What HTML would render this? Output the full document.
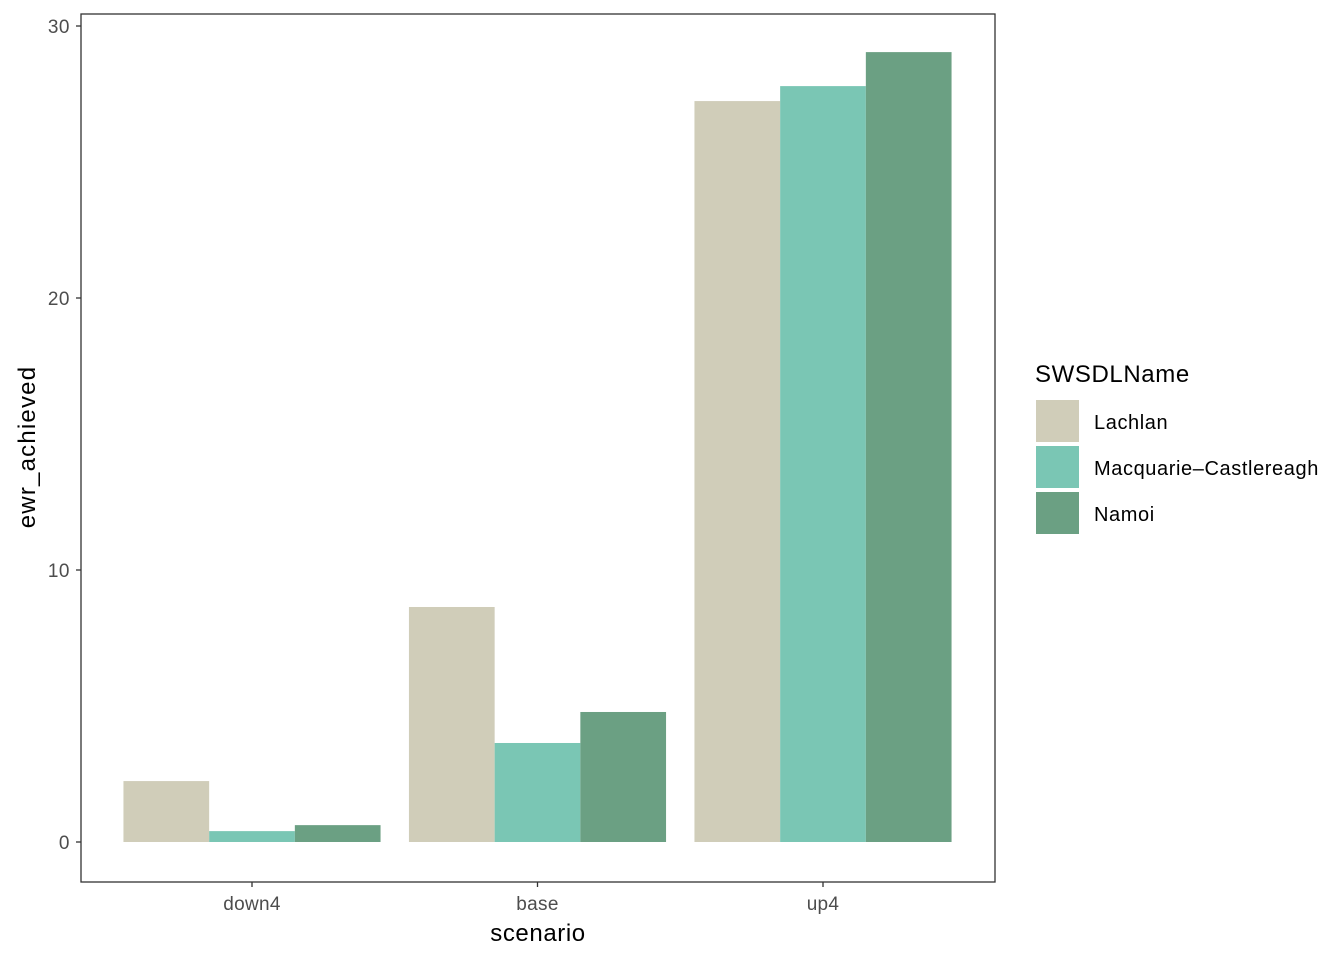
<!DOCTYPE html>
<html><head><meta charset="utf-8"><style>
body{margin:0;background:#fff;}
svg text{font-family:"Liberation Sans",Arial,sans-serif;}
</style></head><body>
<svg id="chart" width="1344" height="960" xmlns="http://www.w3.org/2000/svg">
<rect width="1344" height="960" fill="#fff"/>
<g id="bars"></g>
<rect x="81" y="14" width="914" height="868" fill="none" stroke="#333" stroke-width="1.3"/>
<g id="axes"></g>
<text x="538" y="941" font-size="24" letter-spacing="0.6" text-anchor="middle" fill="#000">scenario</text>
<text transform="translate(35,447) rotate(-90)" font-size="24" letter-spacing="1.2" text-anchor="middle" fill="#000">ewr_achieved</text>
<g id="legend">
<text x="1035" y="382" font-size="24" letter-spacing="0.6" fill="#000">SWSDLName</text>
</g>
</svg>
<script>
const categories = ["down4","base","up4"];
const seriesNames = ["Lachlan","Macquarie\u2013Castlereagh","Namoi"];
const lachlan = [2.24, 8.64, 27.24];
const macquarie = [0.40, 3.64, 27.79];
const namoi = [0.62, 4.78, 29.04];
const yTicks = [0,10,20,30];
const colors = ["#D0CDB9","#7AC6B4","#6BA083"];
const series=[lachlan,macquarie,namoi];
const NS="http://www.w3.org/2000/svg";
const y0=842, pxPerUnit=27.2;
const y=v=>y0-v*pxPerUnit;
const x0=252, step=285.5;
const xc=i=>x0+i*step;
const bw=85.7;
const bars=document.getElementById('bars');
categories.forEach((c,i)=>{
  series.forEach((s,j)=>{
    const r=document.createElementNS(NS,'rect');
    const left=xc(i)-1.5*bw+j*bw;
    r.setAttribute('x',left);r.setAttribute('width',bw);
    r.setAttribute('y',y(s[i]));r.setAttribute('height',y0-y(s[i]));
    r.setAttribute('fill',colors[j]);
    
    
    bars.appendChild(r);
  });
});
const axes=document.getElementById('axes');
yTicks.forEach(t=>{
  const l=document.createElementNS(NS,'line');
  l.setAttribute('x1',76);l.setAttribute('x2',81);l.setAttribute('y1',y(t));l.setAttribute('y2',y(t));
  l.setAttribute('stroke','#333');l.setAttribute('stroke-width','1.3');
  
  
  axes.appendChild(l);
  const tx=document.createElementNS(NS,'text');
  tx.setAttribute('x',70);tx.setAttribute('y',y(t)+7);tx.setAttribute('text-anchor','end');
  tx.setAttribute('font-size','19');tx.setAttribute('letter-spacing','0.5');tx.setAttribute('fill','#4d4d4d');tx.textContent=t;
  
  
  axes.appendChild(tx);
});
categories.forEach((c,i)=>{
  const l=document.createElementNS(NS,'line');
  l.setAttribute('x1',xc(i));l.setAttribute('x2',xc(i));l.setAttribute('y1',882);l.setAttribute('y2',887);
  l.setAttribute('stroke','#333');l.setAttribute('stroke-width','1.3');
  
  
  axes.appendChild(l);
  const tx=document.createElementNS(NS,'text');
  tx.setAttribute('x',xc(i));tx.setAttribute('y',910);tx.setAttribute('text-anchor','middle');
  tx.setAttribute('font-size','19');tx.setAttribute('letter-spacing','0.3');tx.setAttribute('fill','#4d4d4d');tx.textContent=c;
  
  
  axes.appendChild(tx);
});
const lg=document.getElementById('legend');
seriesNames.forEach((n,j)=>{
  const r=document.createElementNS(NS,'rect');
  r.setAttribute('x',1036);r.setAttribute('y',400+j*46);r.setAttribute('width',43);r.setAttribute('height',42);
  r.setAttribute('fill',colors[j]);
  
  
  lg.appendChild(r);
  const tx=document.createElementNS(NS,'text');
  tx.setAttribute('x',1094);tx.setAttribute('y',429+j*46);tx.setAttribute('font-size','20');
  tx.setAttribute('letter-spacing','0.6');
  tx.setAttribute('fill','#000');tx.textContent=n;
  
  
  lg.appendChild(tx);
});
</script>
</body></html>
